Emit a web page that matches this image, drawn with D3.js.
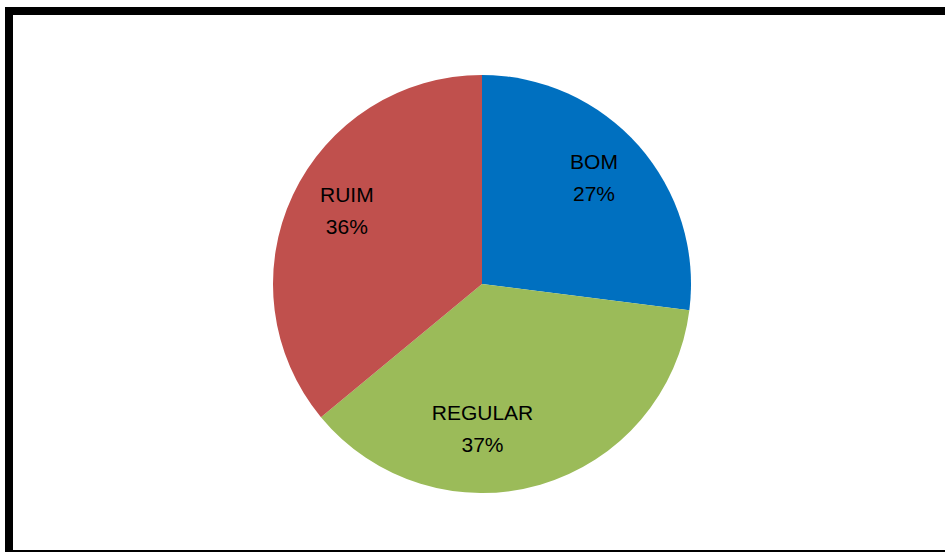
<!DOCTYPE html>
<html>
<head>
<meta charset="utf-8">
<script src="https://cdn.jsdelivr.net/npm/d3@7"></script>
<style>
  html, body { margin: 0; padding: 0; background: #fff; }
  svg { display: block; }
</style>
</head>
<body>
<svg id="chart" width="945" height="553"></svg>
<script>
// Survey answers and their shares (percent)
const categories = ["BOM", "REGULAR", "RUIM"];
const values = [27, 37, 36];
const colors = ["#0070C0", "#9BBB59", "#C0504D"];

const W = 945, H = 553;
const cx = 482, cy = 284, radius = 209;

const svg = d3.select("#chart");

// frame: heavy top and left rules, hairline at the bottom
svg.append("rect").attr("x", 5).attr("y", 7).attr("width", W - 5).attr("height", 8).attr("fill", "#000");
svg.append("rect").attr("x", 5).attr("y", 7).attr("width", 8).attr("height", 545).attr("fill", "#000");
svg.append("rect").attr("x", 5).attr("y", 550).attr("width", W - 5).attr("height", 2).attr("fill", "#000");

const pie = d3.pie().sort(null).value(d => d.value);
const data = categories.map((c, i) => ({ name: c, value: values[i], color: colors[i] }));
const arcs = pie(data);

const arc = d3.arc().innerRadius(0).outerRadius(radius);
const labelArc = d3.arc().innerRadius(156).outerRadius(156);

const g = svg.append("g").attr("transform", `translate(${cx},${cy})`);

g.selectAll("path.slice")
  .data(arcs)
  .join("path")
  .attr("class", "slice")
  .attr("d", arc)
  .attr("fill", d => d.data.color);

// small label nudges so text sits like the original layout
const nudge = { BOM: [-5, -6], REGULAR: [-43, -8], RUIM: [6, -10] };
const fmt = d3.format(".0%");
const total = d3.sum(values);

const labels = g.selectAll("text.lbl")
  .data(arcs)
  .join("text")
  .attr("class", "lbl")
  .attr("transform", d => {
    const [x, y] = labelArc.centroid(d);
    const n = nudge[d.data.name];
    return `translate(${x + n[0]},${y + n[1]})`;
  })
  .attr("text-anchor", "middle")
  .attr("font-family", "'Liberation Sans', Arial, sans-serif")
  .attr("font-size", 21)
  .attr("fill", "#000");

labels.append("tspan").attr("x", 0).attr("y", -6).text(d => d.data.name);
labels.append("tspan").attr("x", 0).attr("y", 26).text(d => fmt(d.data.value / total));
</script>
</body>
</html>
